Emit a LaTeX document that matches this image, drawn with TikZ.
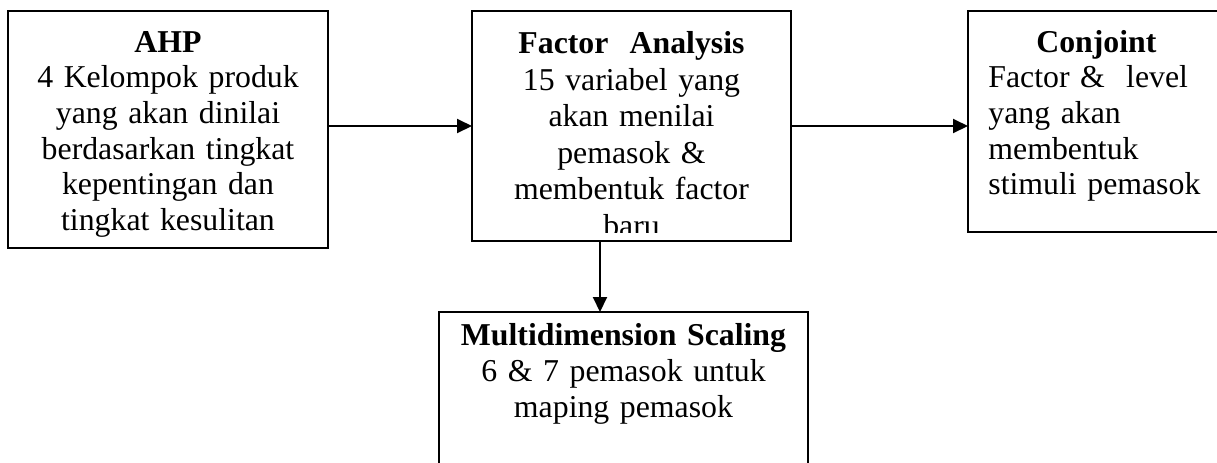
\documentclass[tikz,border=0pt]{standalone}
\usepackage{fontspec}
\setmainfont{Liberation Serif}
\usetikzlibrary{arrows.meta, positioning}

\begin{document}
\begin{tikzpicture}[
  x=0.5pt, y=0.5pt,
  block/.style = {draw, line width=1pt, inner sep=0pt, outer sep=0pt},
  boxtext/.style = {inner sep=0pt, align=center, font=\fontsize{15.9pt}{17.8pt}\selectfont},
  arrow/.style = {line width=1pt, -{Triangle[length=7.5pt, width=7pt]}}
]
  \useasboundingbox (0,0) rectangle (1217,-462);

  % AHP
  \node[block, anchor=north west, minimum width=160pt, minimum height=118.5pt] (ahp) at (8,-11) {};
  \node[boxtext, text width=156pt, below=8pt of ahp.north] (ahptext) {
    \strut\textbf{AHP}\\
    4 Kelompok produk\\
    yang akan dinilai\\
    berdasarkan tingkat\\
    kepentingan dan\\
    tingkat kesulitan
  };

  % Factor Analysis (last line cut by the box)
  \node[block, minimum width=159.5pt, minimum height=115pt, right=72pt of ahp.north east, anchor=north west] (fa) {};
  \begin{scope}
    \clip (fa.north west) rectangle ([yshift=4.5pt]fa.south east);
    \node[boxtext, text width=155pt, below=8.2pt of fa.north, font=\fontsize{15.9pt}{18.3pt}\selectfont] (fatext) {
      \strut\textbf{Factor~ Analysis}\\
      15 variabel yang\\
      akan menilai\\
      pemasok \&\\
      membentuk factor\\
      baru
    };
  \end{scope}

  % Conjoint
  \node[block, minimum width=128pt, minimum height=110.5pt, right=88.5pt of fa.north east, anchor=north west] (cj) {};
  \node[boxtext, align=left, text width=108pt, below right=8pt and 10pt of cj.north west] (cjtext) {
    \strut\hfill\textbf{Conjoint}\hfill\null\\
    Factor \&\ \ level\\
    yang akan\\
    membentuk\\
    stimuli pemasok
  };

  % Multidimension Scaling
  \node[block, minimum width=184.5pt, minimum height=100pt, below=35.5pt of fa.south, xshift=-4pt] (md) {};
  \node[boxtext, text width=180pt, below=3.9pt of md.north, font=\fontsize{15.9pt}{18pt}\selectfont] (mdtext) {
    \strut\textbf{Multidimension Scaling}\\
    6 \& 7 pemasok untuk\\
    maping pemasok
  };

  % AHP -> Factor Analysis
  \draw[arrow] (ahp.east |- fa.west) -- (fa.west);

  % Factor Analysis -> Conjoint
  \draw[arrow] (fa.east) -- (fa.east -| cj.west);

  % Factor Analysis -> Multidimension Scaling
  \draw[arrow] ([xshift=-15.75pt]fa.south) -- ([xshift=-15.75pt]fa.south |- md.north);

\end{tikzpicture}
\end{document}
